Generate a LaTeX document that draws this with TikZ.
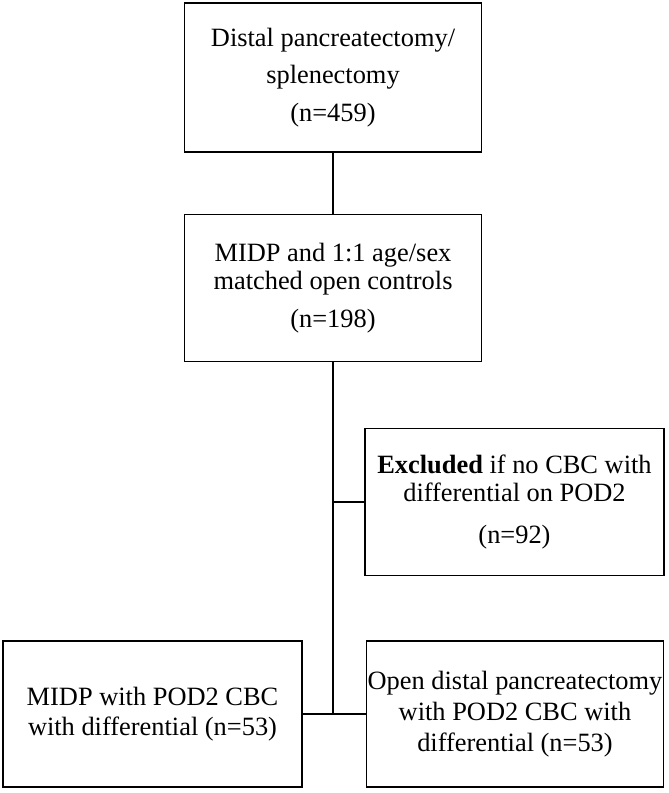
\documentclass[tikz,border=0pt]{standalone}
\usepackage{fontspec}
\setmainfont{Liberation Serif}

\tikzset{
  flowbox/.style={draw=black,line width=1.2pt,align=center,inner sep=0pt,
    minimum width=223pt,minimum height=110.5pt,
    font=\fontsize{19.8}{21}\selectfont},
  link/.style={draw=black,line width=1.2pt}
}

\begin{document}
\begin{tikzpicture}[x=0.75pt,y=-0.75pt]
\path[use as bounding box] (0,0) rectangle (668,793);
\node[flowbox,minimum height=111.5pt] (dps) at (333,77.5) {Distal pancreatectomy/\\[7pt]splenectomy\\[7pt](n=459)};
\node[flowbox] (matched) at (333,288) {MIDP and 1:1 age/sex\\matched open controls\\[8pt](n=198)};
\node[flowbox,minimum width=224pt] (excl) at (514.5,502) {\textbf{Excluded} if no CBC with\\differential on POD2\\[11pt](n=92)};
\node[flowbox,minimum width=224pt,minimum height=109.5pt] (midp) at (152.5,714) {MIDP with POD2 CBC\\[2pt]with differential (n=53)};
\node[flowbox,minimum height=109.5pt] (odp) at (515,714) {Open distal pancreatectomy\\[2pt]with POD2 CBC with\\[2pt]differential (n=53)};
\coordinate (split) at (matched.south |- excl.west);
\coordinate (join) at (matched.south |- midp.east);
\draw[link] (dps) -- (matched);
\draw[link] (matched) -- (join);
\draw[link] (split) -- (excl);
\draw[link] (midp) -- (odp);
\end{tikzpicture}
\end{document}
